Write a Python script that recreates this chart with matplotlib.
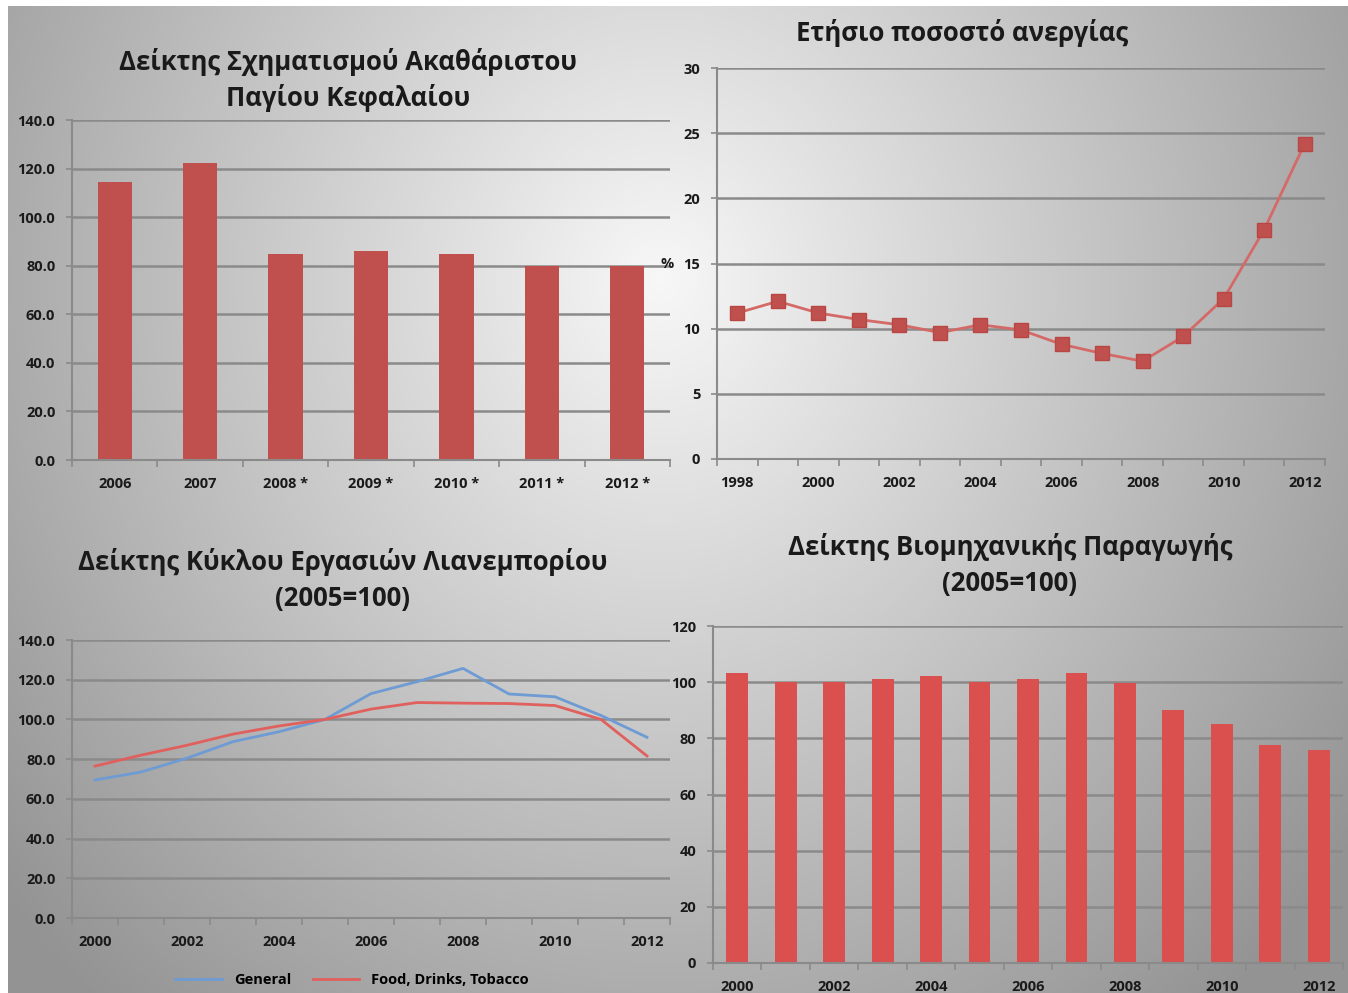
import matplotlib
matplotlib.use("Agg")
import matplotlib.pyplot as plt
import numpy as np

plt.rcParams['font.family'] = ['Open Sans', 'DejaVu Sans']

# --- data -------------------------------------------------------------
gfcf_years = ["2006", "2007", "2008 *", "2009 *", "2010 *", "2011 *", "2012 *"]
gfcf_values = [114.5, 122.5, 85.0, 86.0, 85.0, 80.0, 80.0]

unemp_years = list(range(1998, 2013))
unemp_values = [11.2, 12.1, 11.2, 10.7, 10.3, 9.7, 10.3, 9.9, 8.8, 8.1, 7.5, 9.4, 12.3, 17.6, 24.2]

retail_years = list(range(2000, 2013))
retail_general = [69.5, 73.5, 80.5, 88.8, 93.8, 100.0, 113.0, 119.0, 125.7, 112.8, 111.4, 102.0, 91.0]
retail_food = [76.5, 82.0, 87.0, 92.6, 96.7, 100.0, 105.2, 108.5, 108.2, 108.0, 107.0, 100.0, 81.6]

indprod_years = list(range(2000, 2013))
indprod_values = [103.1, 100.0, 100.0, 101.2, 102.2, 100.0, 101.2, 103.1, 99.6, 90.0, 85.2, 77.6, 75.9]

# --- styling ----------------------------------------------------------
W, H = 1348, 993
RED = "#C0504D"
GRID = "#8a8a8a"
TXT = "#1a1a1a"
TICK_FS = 10.5

fig = plt.figure(figsize=(W / 100, H / 100), dpi=100)
fig.patch.set_facecolor("white")

# gradient background panel
bg = fig.add_axes([8 / W, 0, 1 - 8 / W, 1 - 6 / H])
yy, xx = np.mgrid[6:H, 8:W]
r = np.sqrt(((xx - 660) / 700.0) ** 2 + ((yy - 280) / 780.0) ** 2)
shade = np.clip(0.97 - 0.32 * r, 0.58, 1.0)
bg.imshow(np.dstack([shade, shade, shade]), aspect="auto", interpolation="bilinear")
bg.axis("off")


def make_axes(left, top, right, bottom):
    return fig.add_axes([left / W, 1 - bottom / H, (right - left) / W, (bottom - top) / H])


def style(ax, n, ymax, ystep, fmt, label_every=1, labels=None):
    ax.set_facecolor("none")
    ax.set_xlim(-0.5, n - 0.5)
    ax.set_ylim(0, ymax)
    ticks = np.arange(0, ymax + ystep / 2, ystep)
    ax.set_yticks(ticks)
    ax.set_yticklabels([fmt.format(t) for t in ticks], fontsize=TICK_FS, fontweight="bold", color=TXT)
    ax.yaxis.grid(True, color=GRID, linewidth=1.8)
    ax.set_axisbelow(True)
    pos = np.arange(0, n, label_every)
    ax.set_xticks(pos)
    ax.set_xticklabels([labels[i] for i in pos], fontsize=TICK_FS, fontweight="bold", color=TXT)
    ax.set_xticks(np.arange(-0.5, n, 1.0), minor=True)
    ax.tick_params(axis="x", which="major", length=0, pad=12)
    ax.tick_params(axis="x", which="minor", length=5, color=GRID, width=1.2)
    ax.tick_params(axis="y", length=4, color=GRID, width=1.2, pad=8)
    for s in ["top", "right"]:
        ax.spines[s].set_visible(False)
    ax.spines["left"].set_color(GRID)
    ax.spines["bottom"].set_color(GRID)
    ax.spines["left"].set_linewidth(1.5)
    ax.spines["bottom"].set_linewidth(1.5)


title_kw = dict(ha="center", va="center", fontsize=18.5, fontweight="bold", color=TXT, linespacing=1.4)

# top-left: gross fixed capital formation
ax1 = make_axes(72, 120, 670, 460)
x1 = np.arange(len(gfcf_years))
ax1.bar(x1, gfcf_values, width=0.4, color=RED)
style(ax1, len(gfcf_years), 140, 20, "{:.1f}", labels=gfcf_years)
fig.text(348 / W, 1 - 80 / H, "Δείκτης Σχηματισμού Ακαθάριστου\nΠαγίου Κεφαλαίου", **title_kw)

# top-right: unemployment rate
ax2 = make_axes(717, 68, 1325, 459)
x2 = np.arange(len(unemp_years))
ax2.plot(x2, unemp_values, color="#D46A67", linewidth=2, marker="s", markersize=10,
         markerfacecolor=RED, markeredgecolor="#B84744")
style(ax2, len(unemp_years), 30, 5, "{:.0f}", label_every=2, labels=[str(y) for y in unemp_years])
ax2.set_ylabel("%", rotation=0, fontsize=TICK_FS, fontweight="bold", color=TXT, labelpad=12, va="center")
fig.text(962 / W, 1 - 33 / H, "Ετήσιο ποσοστό ανεργίας", **title_kw)

# bottom-left: retail trade turnover
ax3 = make_axes(72, 640, 670, 918)
x3 = np.arange(len(retail_years))
ax3.plot(x3, retail_general, color="#6E9BD3", linewidth=2, label="General")
ax3.plot(x3, retail_food, color="#E0605D", linewidth=2, label="Food, Drinks, Tobacco")
style(ax3, len(retail_years), 140, 20, "{:.1f}", label_every=2, labels=[str(y) for y in retail_years])
fig.text(343 / W, 1 - 580 / H, "Δείκτης Κύκλου Εργασιών Λιανεμπορίου\n(2005=100)", **title_kw)
fig.legend(loc="center", bbox_to_anchor=(352 / W, 1 - 980 / H), ncol=2, frameon=False,
           prop={"size": TICK_FS, "weight": "bold"}, handlelength=3.2, columnspacing=1.5)

# bottom-right: industrial production
ax4 = make_axes(713, 626, 1343, 963)
x4 = np.arange(len(indprod_years))
ax4.bar(x4, indprod_values, width=0.45, color="#D9504F")
style(ax4, len(indprod_years), 120, 20, "{:.0f}", label_every=2, labels=[str(y) for y in indprod_years])
fig.text(1010 / W, 1 - 565 / H, "Δείκτης Βιομηχανικής Παραγωγής\n(2005=100)", **title_kw)

fig.savefig("out.png", dpi=100)
